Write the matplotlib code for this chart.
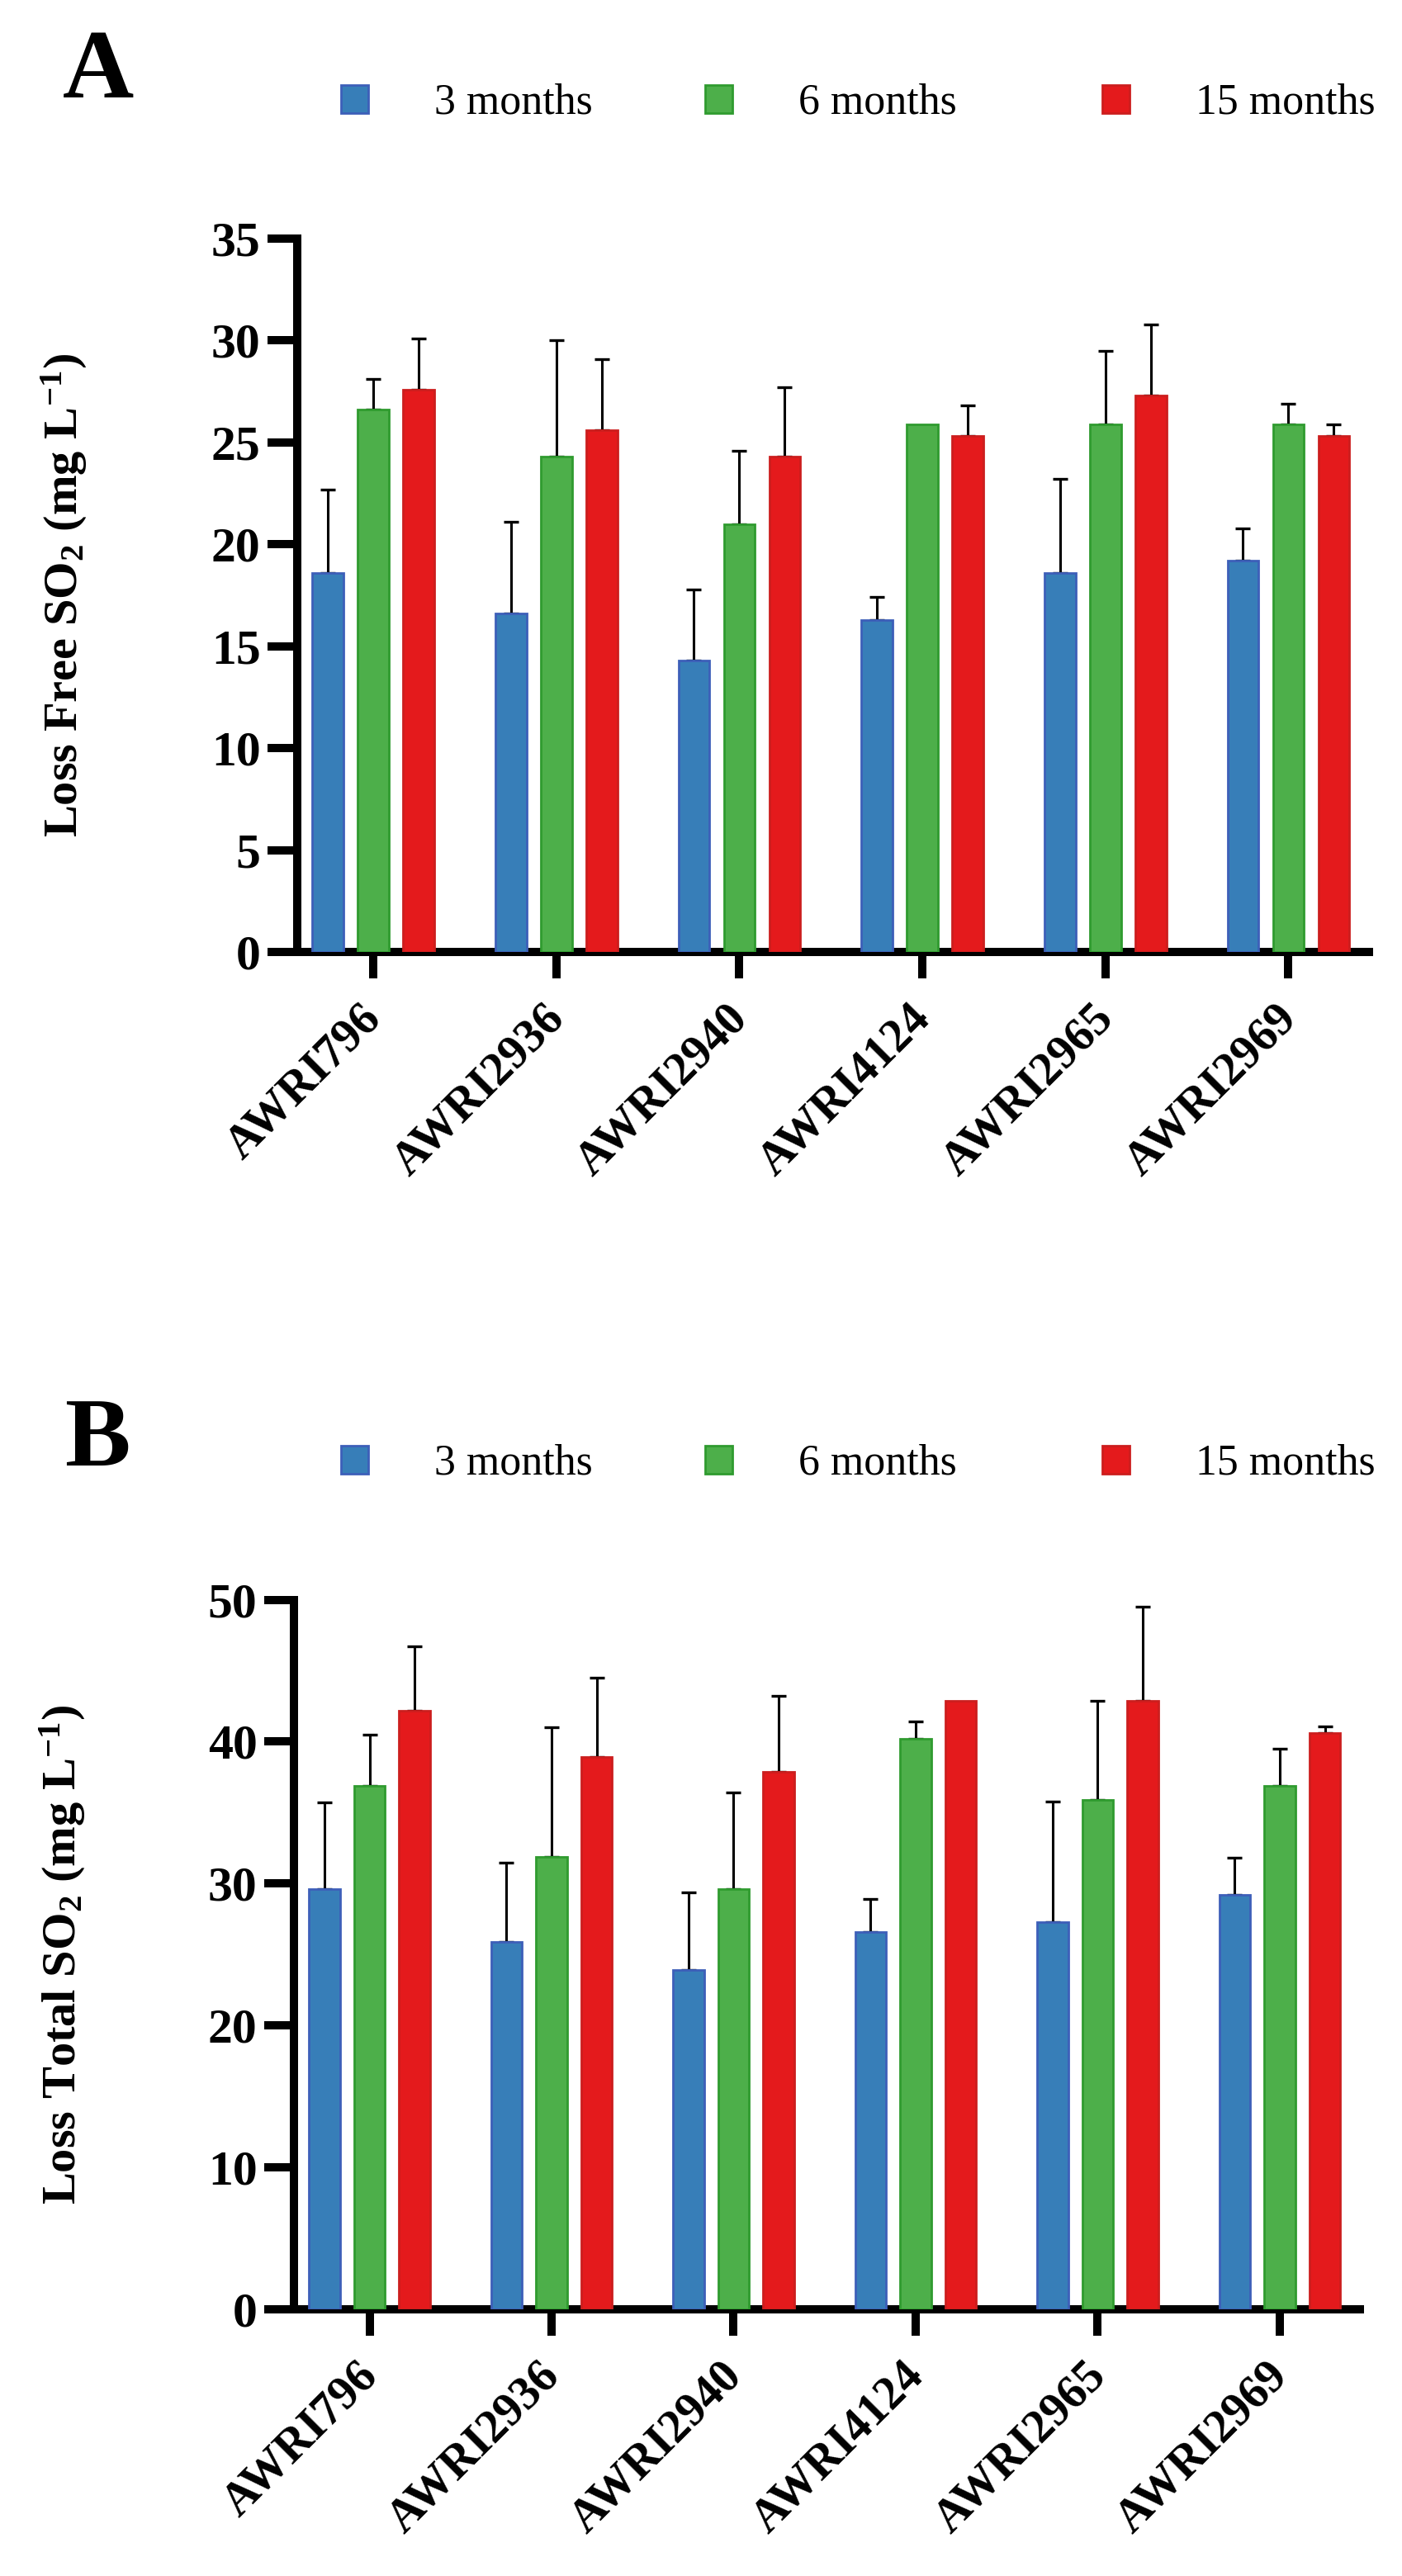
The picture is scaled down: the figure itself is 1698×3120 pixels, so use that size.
import numpy as np
import matplotlib
matplotlib.use("Agg")
import matplotlib.pyplot as plt
import matplotlib.transforms as mtransforms

plt.rcParams['font.family'] = ['Liberation Serif', 'DejaVu Serif']
plt.rcParams['mathtext.default'] = 'regular'

strains = ['AWRI796', 'AWRI2936', 'AWRI2940', 'AWRI4124', 'AWRI2965', 'AWRI2969']
series = ['3 months', '6 months', '15 months']

# panel A: loss of free SO2 (mean, upper SD)
free_3m = [18.6, 16.6, 14.3, 16.3, 18.6, 19.2]
free_6m = [26.6, 24.3, 21.0, 25.9, 25.9, 25.9]
free_15m = [27.6, 25.6, 24.3, 25.3, 27.3, 25.3]
free_3m_sd = [4.1, 4.5, 3.5, 1.1, 4.6, 1.6]
free_6m_sd = [1.5, 5.7, 3.6, 0.0, 3.6, 1.0]
free_15m_sd = [2.5, 3.5, 3.4, 1.5, 3.5, 0.6]

# panel B: loss of total SO2
total_3m = [29.6, 25.9, 23.9, 26.6, 27.3, 29.2]
total_6m = [36.9, 31.9, 29.6, 40.2, 35.9, 36.9]
total_15m = [42.2, 38.9, 37.9, 42.9, 42.9, 40.6]
total_3m_sd = [6.1, 5.6, 5.5, 2.3, 8.5, 2.6]
total_6m_sd = [3.6, 9.1, 6.8, 1.2, 7.0, 2.6]
total_15m_sd = [4.5, 5.6, 5.3, 0.0, 6.6, 0.5]

fills = ['#377EB8', '#4DAF4A', '#E41A1C']
edges = ['#3D5FB9', '#2F9B2F', '#CC1E1E']

W, H = 1698, 3120
fig = plt.figure(figsize=(W / 200, H / 200), dpi=200)

# left edge (px) of each legend swatch
leg_x = [413, 854, 1335]


def draw_panel(rect, means, sds, ymax, ystep, ylabel, letter, letter_pos, leg_y):
    ax = fig.add_axes(rect)
    x = np.arange(len(strains))
    width = 0.17
    offs = [-0.248, 0.0, 0.248]
    bars = []
    for k in range(3):
        b = ax.bar(x + offs[k], means[k], width, color=fills[k], edgecolor=edges[k],
                   linewidth=1.0, zorder=3, label=series[k])
        bars.append(b)
        m = np.array(means[k])
        e = np.array(sds[k])
        keep = e > 0
        ax.errorbar((x + offs[k])[keep], m[keep], yerr=[np.zeros(keep.sum()), e[keep]],
                    fmt='none', ecolor='black', elinewidth=1.1, capsize=3.1,
                    capthick=1.2, zorder=2)
    ax.set_xlim(-0.415, 5.44)
    ax.set_ylim(0, ymax)
    ax.set_yticks(np.arange(0, ymax + 0.1, ystep))
    ax.set_xticks(x)
    ax.set_xticklabels(strains, rotation=45, ha='right', fontsize=20.5, fontweight='bold')
    for lab in ax.get_yticklabels():
        lab.set_fontsize(21.5)
        lab.set_fontweight('bold')
    for s in ['top', 'right']:
        ax.spines[s].set_visible(False)
    for s in ['left', 'bottom']:
        ax.spines[s].set_linewidth(3.6)
    ax.tick_params(axis='y', direction='out', length=13, width=3.6, pad=3)
    ax.tick_params(axis='x', direction='out', length=11.5, width=3.6, pad=8)
    offset = mtransforms.ScaledTranslation(20 / 200, 0, fig.dpi_scale_trans)
    for lab in ax.get_xticklabels():
        lab.set_transform(lab.get_transform() + offset)
    ax.set_ylabel(ylabel, fontsize=21, fontweight='bold')
    ax.yaxis.set_label_coords(-0.194, 0.5)
    fig.text(letter_pos[0], letter_pos[1], letter, fontsize=43, fontweight='bold',
             va='baseline', ha='left')
    for k in range(3):
        fig.legend([bars[k]], [series[k]], loc='center left',
                   bbox_to_anchor=(leg_x[k] / W, leg_y), frameon=False,
                   fontsize=18.7, handlelength=0.63, handleheight=0.62,
                   handletextpad=1.55, borderpad=0, borderaxespad=0)
    return ax


def frac_rect(left, right, top, bottom):
    return [left / W, 1 - bottom / H, (right - left) / W, (bottom - top) / H]


draw_panel(frac_rect(360, 1658, 289, 1153),
           [free_3m, free_6m, free_15m], [free_3m_sd, free_6m_sd, free_15m_sd],
           35, 5, 'Loss Free SO$_2$ (mg L$^{-1}$)', 'A', (76 / W, 1 - 118 / H), 1 - 125 / H)
draw_panel(frac_rect(356, 1647, 1937.6, 2797),
           [total_3m, total_6m, total_15m], [total_3m_sd, total_6m_sd, total_15m_sd],
           50, 10, 'Loss Total SO$_2$ (mg L$^{-1}$)', 'B', (78 / W, 1 - 1775 / H), 1 - 1773 / H)

fig.savefig('out.png', dpi=200)
